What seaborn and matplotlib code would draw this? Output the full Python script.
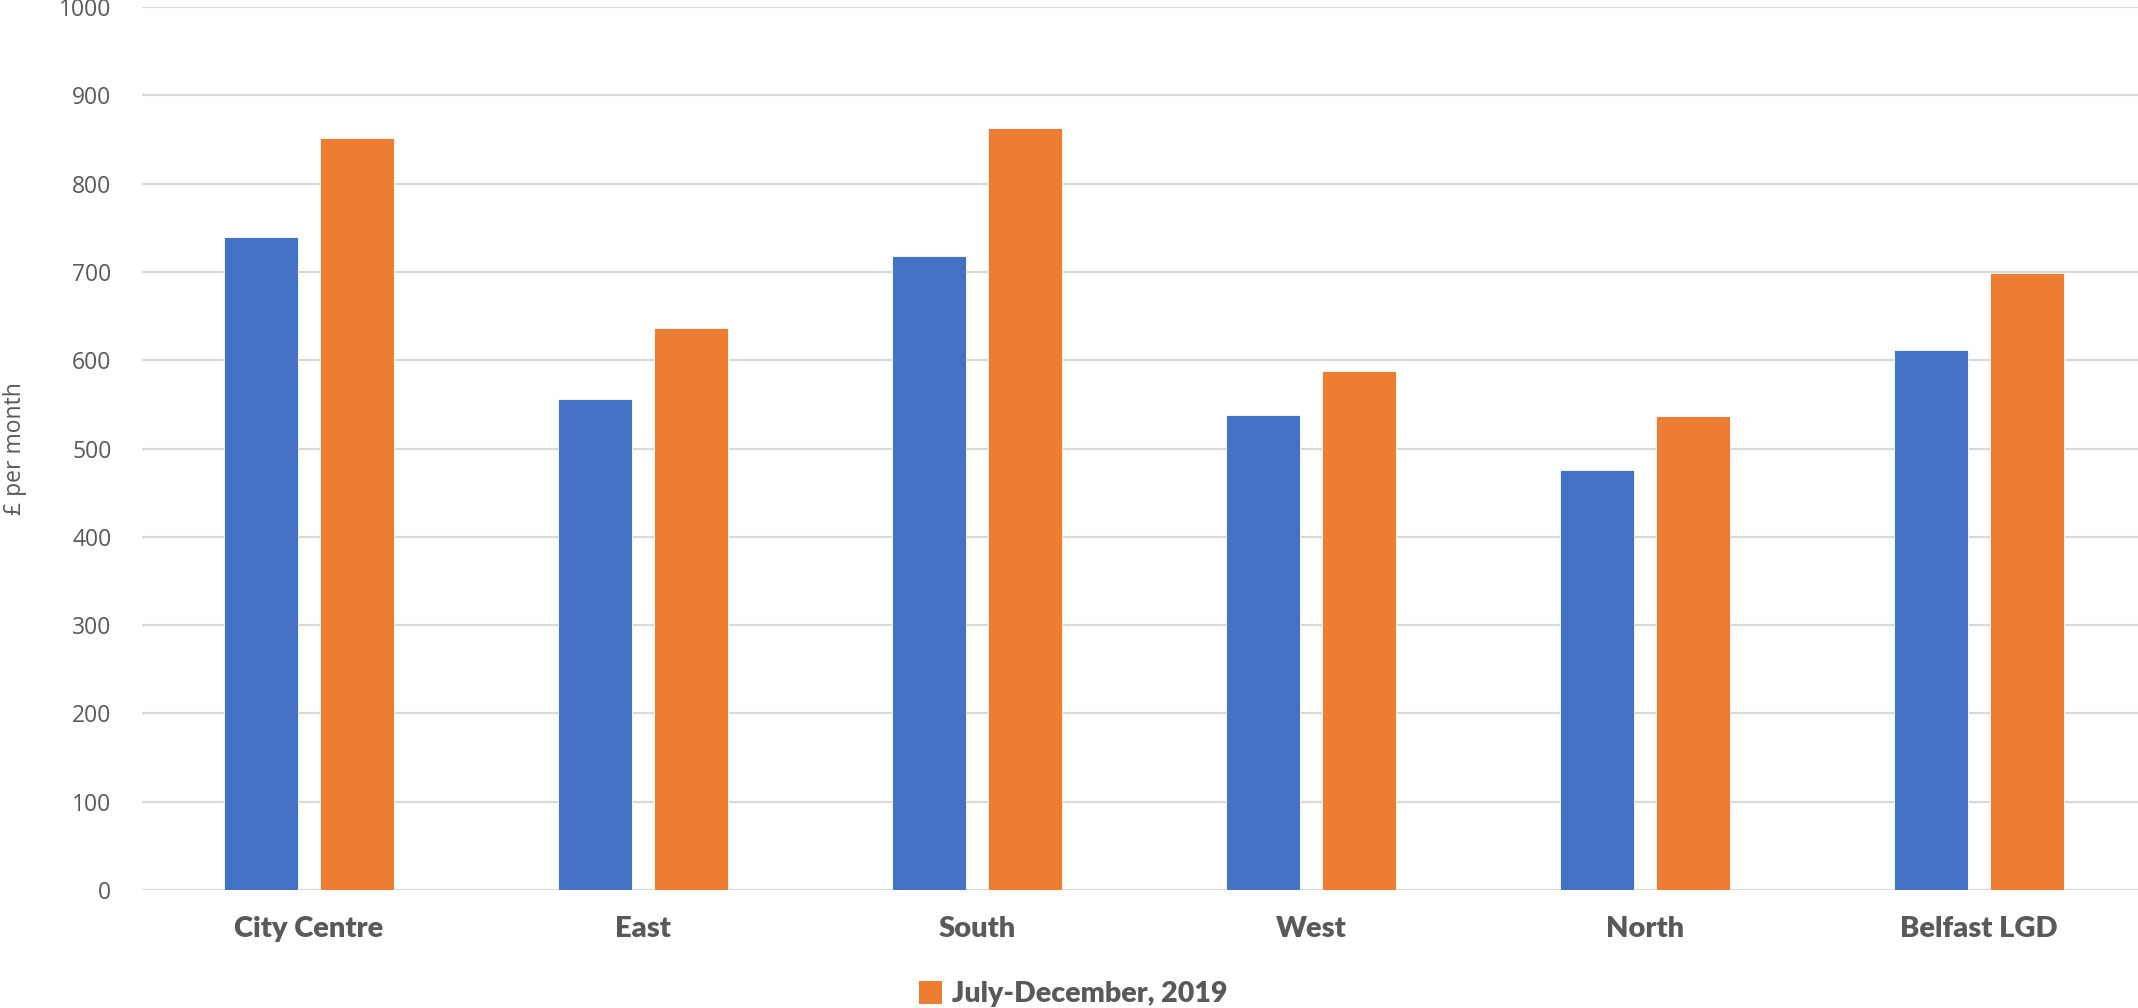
import matplotlib
matplotlib.use("Agg")
import matplotlib.pyplot as plt
import seaborn as sns
import pandas as pd
from matplotlib.patches import Patch

categories = ["City Centre", "East", "South", "West", "North", "Belfast LGD"]
series_names = ["July-December, 2018", "July-December, 2019"]
values_2018 = [740, 556, 718, 538, 476, 612]
values_2019 = [852, 637, 863, 588, 537, 699]
y_ticks = list(range(0, 1001, 100))

colors = ["#4472C4", "#ED7D31"]
text_color = "#595959"
grid_color = "#d9d9d9"

df = pd.DataFrame({
    "Area": categories * 2,
    "Period": [series_names[0]] * len(categories) + [series_names[1]] * len(categories),
    "Rent": values_2018 + values_2019,
})

sns.set_theme(style="white")
plt.rcParams["font.family"] = ["Open Sans", "DejaVu Sans"]

fig = plt.figure(figsize=(21.38, 10.08), dpi=100)
ax = fig.add_axes([142 / 2138, 1 - 890 / 1008, 2004 / 2138, 883 / 1008])

sns.barplot(data=df, x="Area", y="Rent", hue="Period", order=categories,
            hue_order=series_names, palette=colors, width=0.575, gap=0.22,
            saturation=1, ax=ax, legend=False, edgecolor="white", linewidth=0.6,
            zorder=3)

ax.set_ylim(0, 1000)
ax.set_xlim(-0.5, len(categories) - 0.5)
ax.set_yticks(y_ticks)
ax.set_yticklabels([str(t) for t in y_ticks], fontsize=16.5, color=text_color)
ax.yaxis.grid(True, color=grid_color, linewidth=1.6, zorder=0)
ax.xaxis.grid(False)
for s in ax.spines.values():
    s.set_visible(False)
ax.tick_params(axis="y", length=0, pad=22)
ax.tick_params(axis="x", length=0, pad=19)
for lbl in ax.get_xticklabels():
    lbl.set_fontfamily(["Lato", "DejaVu Sans"])
    lbl.set_fontweight("heavy")
    lbl.set_fontsize(21)
    lbl.set_color(text_color)
ax.set_xlabel("")
ax.set_ylabel("£ per month", fontsize=16.5, color=text_color)
ax.yaxis.set_label_coords((27 - 142) / 2004, 0.5)

handles = [Patch(facecolor=colors[1], edgecolor="none")]
leg = fig.legend(handles, [series_names[1]], loc="center",
                 bbox_to_anchor=(1073 / 2138, 1 - 994 / 1008), frameon=False,
                 handlelength=0.8, handleheight=0.9, handletextpad=0.35,
                 prop={"family": ["Lato", "DejaVu Sans"], "weight": "heavy", "size": 20.5})
for t in leg.get_texts():
    t.set_color(text_color)

fig.savefig("out.png", dpi=100)
